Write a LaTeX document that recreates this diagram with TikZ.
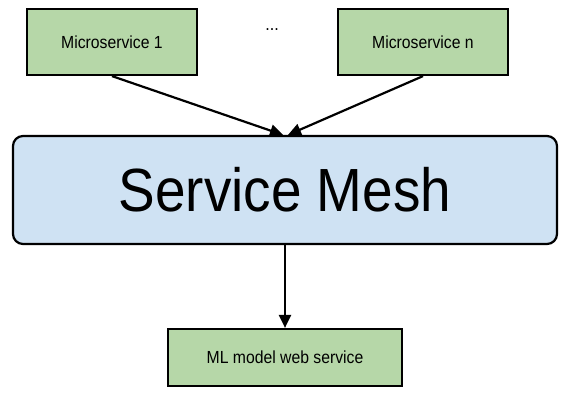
\documentclass[tikz,border=0pt]{standalone}
\usepackage{fontspec}
\setmainfont{Liberation Sans}
\newfontfamily\narrowsf[FakeStretch=0.9]{Liberation Sans}
\usetikzlibrary{arrows.meta}

\definecolor{msgreen}{HTML}{B6D7A8}
\definecolor{meshblue}{HTML}{CFE2F3}

\tikzset{
    svc/.style={draw, line width=2.2pt, fill=msgreen, minimum width=170pt, minimum height=66pt,
        font=\narrowsf\fontsize{17.5}{20}\selectfont},
    mesh/.style={draw, line width=2.2pt, fill=meshblue, rounded corners=10pt,
        minimum width=544pt, minimum height=108pt, font=\narrowsf\fontsize{61}{70}\selectfont},
    link/.style={line width=2.2pt, -{Triangle[length=13pt,width=12pt]}}
}

\begin{document}
\begin{tikzpicture}[x=1pt, y=-1pt]
            \useasboundingbox (0, 0) rectangle (571, 407);
            \node[svc] (ms1) at (112, 42) {Microservice 1};
            \node[svc] (msn) at (423, 42) {Microservice n};
            \node[font=\narrowsf\fontsize{18}{20}\selectfont] (dots) at (272, 30) {...};
            \node[mesh] (mesh) at (285, 190) {Service Mesh};
            \node[svc, minimum width=234pt, minimum height=57pt] (ml) at (285, 357.5) {ML model web service};
            \draw[link] (ms1.south) -- ([xshift=-2pt]mesh.north);
            \draw[link] (msn.south) -- ([xshift=3pt]mesh.north);
            \draw[link] (mesh.south) -- (ml.north);
        \end{tikzpicture}
\end{document}
